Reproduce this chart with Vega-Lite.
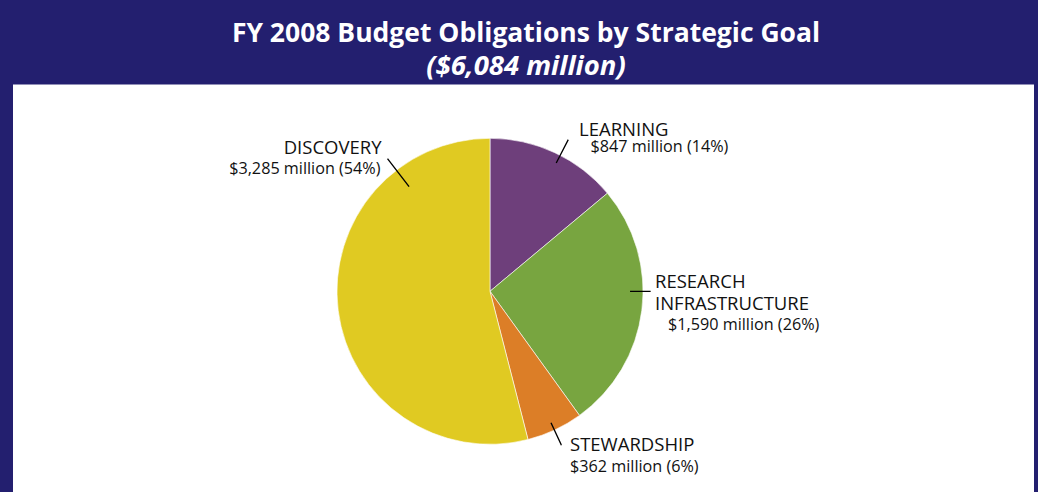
{
  "$schema": "https://vega.github.io/schema/vega-lite/v6.json",
  "width": 1038,
  "height": 492,
  "autosize": {"type": "fit", "contains": "padding"},
  "padding": {"top": 20.6, "left": 13, "right": 4, "bottom": 0},
  "background": "#231F6F",
  "view": {"fill": "white", "stroke": null},
  "title": {
    "text": "FY 2008 Budget Obligations by Strategic Goal",
    "subtitle": "($6,084 million)",
    "color": "white",
    "subtitleColor": "white",
    "font": "Open Sans",
    "subtitleFont": "Open Sans",
    "fontSize": 26.5,
    "subtitleFontSize": 27.5,
    "fontWeight": "bold",
    "subtitleFontWeight": "bold",
    "subtitleFontStyle": "italic",
    "anchor": "middle",
    "frame": "group",
    "offset": 4.4,
    "subtitlePadding": 5,
    "dx": 2.5
  },
  "data": {
    "values": [
      {"goal": "LEARNING", "amount": 847, "rank": 1, "amountLabel": "$847 million (14%)"},
      {"goal": "RESEARCH INFRASTRUCTURE", "amount": 1590, "rank": 2, "amountLabel": "$1,590 million (26%)"},
      {"goal": "STEWARDSHIP", "amount": 362, "rank": 3, "amountLabel": "$362 million (6%)"},
      {"goal": "DISCOVERY", "amount": 3285, "rank": 4, "amountLabel": "$3,285 million (54%)"}
    ]
  },
  "layer": [
    {
      "mark": {"type": "arc", "radius": 153, "xOffset": -33.5, "yOffset": 3, "stroke": "white", "strokeWidth": 0.6},
      "encoding": {
        "theta": {"field": "amount", "type": "quantitative", "stack": true},
        "order": {"field": "rank", "type": "quantitative"},
        "color": {
          "field": "goal",
          "type": "nominal",
          "scale": {
            "domain": ["LEARNING", "RESEARCH INFRASTRUCTURE", "STEWARDSHIP", "DISCOVERY"],
            "range": ["#6E3F7B", "#78A540", "#DC7E27", "#E0CA22"]
          },
          "legend": null
        }
      }
    },
    {
      "transform": [{"filter": "datum.goal === 'LEARNING'"}],
      "mark": {"type": "arc", "theta": 0.4765, "theta2": 0.4766, "radius": 170, "radius2": 145, "xOffset": -33.5, "yOffset": 3, "fill": null, "stroke": "black", "strokeWidth": 1.3},
      "encoding": {}
    },
    {
      "transform": [{"filter": "datum.goal === 'RESEARCH INFRASTRUCTURE'"}],
      "mark": {"type": "arc", "theta": 1.5708, "theta2": 1.5709, "radius": 160, "radius2": 140.7, "xOffset": -33.5, "yOffset": 3, "fill": null, "stroke": "black", "strokeWidth": 1.3},
      "encoding": {}
    },
    {
      "transform": [{"filter": "datum.goal === 'STEWARDSHIP'"}],
      "mark": {"type": "arc", "theta": 2.707, "theta2": 2.7071, "radius": 169, "radius2": 145.5, "xOffset": -33.5, "yOffset": 3, "fill": null, "stroke": "black", "strokeWidth": 1.3},
      "encoding": {}
    },
    {
      "transform": [{"filter": "datum.goal === 'DISCOVERY'"}],
      "mark": {"type": "arc", "theta": 5.6252, "theta2": 5.6253, "radius": 167, "radius2": 133, "xOffset": -33.5, "yOffset": 3, "fill": null, "stroke": "black", "strokeWidth": 1.3},
      "encoding": {}
    },
    {
      "transform": [{"filter": "datum.goal === 'DISCOVERY'"}],
      "mark": {"type": "text", "font": "Open Sans", "fontSize": 18.5, "color": "#111", "align": "right", "baseline": "alphabetic", "xOffset": -33.5, "yOffset": 3, "dx": -108.5, "dy": -137},
      "encoding": {"text": {"field": "goal"}}
    },
    {
      "transform": [{"filter": "datum.goal === 'DISCOVERY'"}],
      "mark": {"type": "text", "font": "Open Sans", "fontSize": 16.2, "color": "#111", "align": "right", "baseline": "alphabetic", "xOffset": -33.5, "yOffset": 3, "dx": -109.5, "dy": -117.7},
      "encoding": {"text": {"field": "amountLabel"}}
    },
    {
      "transform": [{"filter": "datum.goal === 'LEARNING'"}],
      "mark": {"type": "text", "font": "Open Sans", "fontSize": 18.5, "color": "#111", "align": "left", "baseline": "alphabetic", "xOffset": -33.5, "yOffset": 3, "dx": 89, "dy": -155.7},
      "encoding": {"text": {"field": "goal"}}
    },
    {
      "transform": [{"filter": "datum.goal === 'LEARNING'"}],
      "mark": {"type": "text", "font": "Open Sans", "fontSize": 16.2, "color": "#111", "align": "left", "baseline": "alphabetic", "xOffset": -33.5, "yOffset": 3, "dx": 100.5, "dy": -139.5},
      "encoding": {"text": {"field": "amountLabel"}}
    },
    {
      "transform": [{"filter": "datum.goal === 'RESEARCH INFRASTRUCTURE'"}],
      "mark": {"type": "text", "font": "Open Sans", "fontSize": 18.5, "color": "#111", "align": "left", "baseline": "alphabetic", "lineBreak": " ", "lineHeight": 21.6, "xOffset": -33.5, "yOffset": 3, "dx": 165, "dy": -3.3},
      "encoding": {"text": {"field": "goal"}}
    },
    {
      "transform": [{"filter": "datum.goal === 'RESEARCH INFRASTRUCTURE'"}],
      "mark": {"type": "text", "font": "Open Sans", "fontSize": 16.2, "color": "#111", "align": "left", "baseline": "alphabetic", "xOffset": -33.5, "yOffset": 3, "dx": 178, "dy": 39},
      "encoding": {"text": {"field": "amountLabel"}}
    },
    {
      "transform": [{"filter": "datum.goal === 'STEWARDSHIP'"}],
      "mark": {"type": "text", "font": "Open Sans", "fontSize": 18.5, "color": "#111", "align": "left", "baseline": "alphabetic", "xOffset": -33.5, "yOffset": 3, "dx": 80, "dy": 160},
      "encoding": {"text": {"field": "goal"}}
    },
    {
      "transform": [{"filter": "datum.goal === 'STEWARDSHIP'"}],
      "mark": {"type": "text", "font": "Open Sans", "fontSize": 16.2, "color": "#111", "align": "left", "baseline": "alphabetic", "xOffset": -33.5, "yOffset": 3, "dx": 80, "dy": 180.7},
      "encoding": {"text": {"field": "amountLabel"}}
    }
  ]
}
